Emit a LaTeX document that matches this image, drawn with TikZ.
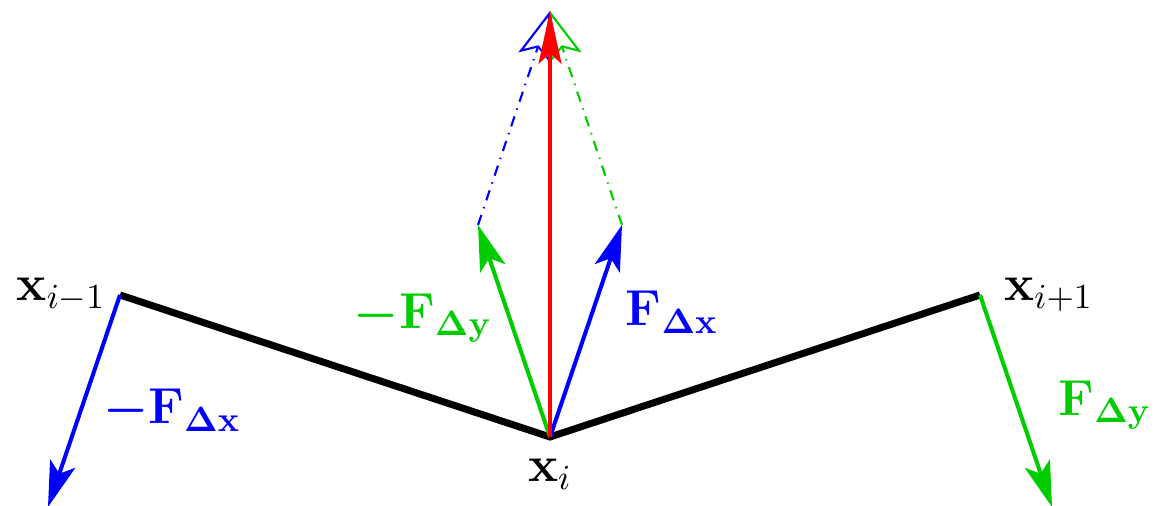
\documentclass[tikz,border=0pt]{standalone}
\usepackage{amsmath, amssymb, bm}
\usepackage{tikz}
\usetikzlibrary{calc, positioning, arrows.meta}
\usepackage{xcolor}
\definecolor{fxblue}{RGB}{0, 0, 255}
\definecolor{fygreen}{RGB}{0, 204, 0}
\definecolor{sumred}{RGB}{255, 0, 0}

\begin{document}
\begin{tikzpicture}[
    chain/.style={line width=2pt, black},
    force/.style={line width=1.15pt, -{Stealth[length=13pt, width=7.5pt, inset=3pt]}},
    resultant/.style={line width=1.3pt, -{Stealth[length=15pt, width=6.5pt, inset=3pt]}},
    shifted/.style={dash dot, line width=0.6pt, -{Stealth[open, length=14pt, width=9.5pt, inset=3pt]}},
    lbl/.style={font=\Large}]
  \useasboundingbox (0,0) rectangle (11.61,5.06);
  % vertices of the chain
  \coordinate (xim1) at (1.20,2.11);
  \coordinate (xi) at (5.50,0.69);
  \coordinate (xip1) at (9.80,2.11);
  % force tips
  \coordinate (fxl) at ($(xim1)+(-0.72,-2.12)$);
  \coordinate (fyr) at ($(xip1)+(0.72,-2.12)$);
  \coordinate (fyc) at ($(xi)+(-0.72,2.12)$);
  \coordinate (fxc) at ($(xi)+(0.72,2.12)$);
  \coordinate (top) at ($(xi)+(0,4.26)$);
  % chain
  \draw[chain, line join=miter] (xim1) -- (xi) -- (xip1);
  % parallelogram sides
  \draw[shifted, fxblue] (fyc) -- (top);
  \draw[shifted, fygreen] (fxc) -- (top);
  % forces
  \draw[force, fxblue] (xim1) -- (fxl);
  \draw[force, fygreen] (xip1) -- (fyr);
  \draw[force, fygreen] (xi) -- (fyc);
  \draw[force, fxblue] (xi) -- (fxc);
  \draw[resultant, sumred] (xi) -- (top);
  % labels
  \node[lbl, left=0.02cm of xim1] (lxim1) {$\mathbf{x}_{i-1}$};
  \node[lbl, right=0.12cm of xip1] (lxip1) {$\mathbf{x}_{i+1}$};
  \node[lbl, below=0.1cm of xi] (lxi) {$\mathbf{x}_{i}$};
  \node[lbl, text=fxblue] (lfxl) at (1.72,0.96) {$\bm{-\mathbf{F}_{\Delta\mathbf{x}}}$};
  \node[lbl, text=fygreen] (lfyc) at (4.23,1.88) {$\bm{-\mathbf{F}_{\Delta\mathbf{y}}}$};
  \node[lbl, text=fxblue] (lfxc) at (6.72,1.94) {$\bm{\mathbf{F}_{\Delta\mathbf{x}}}$};
  \node[lbl, text=fygreen] (lfyr) at (11.05,1.01) {$\bm{\mathbf{F}_{\Delta\mathbf{y}}}$};
\end{tikzpicture}
\end{document}
